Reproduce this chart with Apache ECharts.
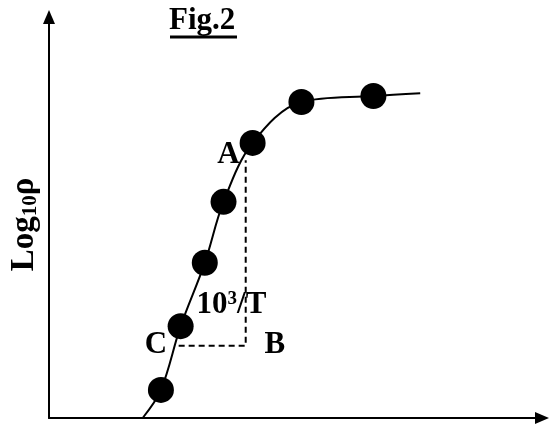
<!DOCTYPE html>
<html>
<head>
<meta charset="utf-8">
<script src="https://cdn.jsdelivr.net/npm/echarts@6/dist/echarts.min.js"></script>
<style>
  html, body { margin: 0; padding: 0; background: #fff; }
  #chart { width: 549px; height: 427px; }
</style>
</head>
<body>
<div id="chart"></div>
<script>
// Measured points (arbitrary units, 0–100 on both axes)
const pointX = [22.7, 26.7, 31.6, 35.4, 41.3, 51.2, 65.8];
const pointY = [7.0, 22.9, 38.7, 53.9, 68.6, 78.8, 80.3];

// Fitted curve knots: runs from the x axis, through the points, to a plateau
const curveX = [19.0, 22.7, 26.7, 31.6, 35.4, 41.3, 51.2, 65.8, 75.3];
const curveY = [0.0, 7.0, 22.9, 38.7, 53.9, 68.6, 78.8, 80.3, 81.0];

// Slope triangle C–B–A (dashed legs)
const triX = [26.3, 39.9, 39.9];
const triY = [18.0, 18.0, 64.3];

// Point labels
const labelNames = ['A', 'C', 'B', 'slope'];
const labelX = [36.4, 21.7, 45.8, 37.0];
const labelY = [65.6, 18.2, 18.2, 28.2];

const SERIF = '"Liberation Serif", "DejaVu Serif", serif';

const zip = (xs, ys) => xs.map((x, i) => [x, ys[i]]);

const chart = echarts.init(document.getElementById('chart'), null, { renderer: 'canvas' });

const axisCommon = {
  type: 'value', min: 0, max: 100,
  axisLine: { show: true, symbol: ['none', 'triangle'], symbolSize: [12, 14],
    lineStyle: { color: '#000', width: 2 } },
  axisTick: { show: false }, axisLabel: { show: false }, splitLine: { show: false }
};

chart.setOption({
  animation: false,
  backgroundColor: '#fff',
  grid: { left: 48, right: 7, top: 17, bottom: 9, containLabel: false },
  xAxis: Object.assign({}, axisCommon),
  yAxis: Object.assign({}, axisCommon, {
    name: '{m|Log}{s|10}{m|ρ}',
    nameLocation: 'middle', nameRotate: 90, nameGap: 8,
    nameTextStyle: {
      padding: [0, 14, 0, 0],
      rich: {
        m: { fontFamily: SERIF, fontWeight: 'bold', fontSize: 33, color: '#000' },
        s: { fontFamily: SERIF, fontWeight: 'bold', fontSize: 21, color: '#000', padding: [10, 0, 0, 0], verticalAlign: 'bottom' }
      }
    }
  }),
  graphic: [
    { type: 'text', left: 169, top: 5, z: 10,
      style: { text: 'Fig.2', fill: '#000', font: 'bold 31px ' + SERIF } },
    { type: 'line', z: 10,
      shape: { x1: 170, y1: 37, x2: 237, y2: 37 },
      style: { stroke: '#000', lineWidth: 3 } }
  ],
  series: [
    {
      type: 'line', data: zip(curveX, curveY), smooth: 0.35,
      showSymbol: false, lineStyle: { color: '#000', width: 2, opacity: 1 }, z: 2
    },
    {
      type: 'line', data: zip(triX, triY), showSymbol: false,
      lineStyle: { color: '#000', width: 2, type: [6, 4], opacity: 1 }, z: 1
    },
    {
      type: 'scatter', data: zip(pointX, pointY), symbol: 'circle', symbolSize: 26,
      itemStyle: { color: '#000', opacity: 1 }, z: 3
    },
    {
      type: 'scatter', symbolSize: 0, z: 4,
      itemStyle: { opacity: 1 },
      data: labelNames.map((n, i) => ({ name: n, value: [labelX[i], labelY[i]] })),
      label: {
        show: true, position: 'inside', color: '#000',
        fontFamily: SERIF, fontWeight: 'bold', fontSize: 31,
        formatter: p => p.name === 'slope' ? '{m|10}{sup|3}{m|/T}' : p.name,
        rich: {
          m: { fontFamily: SERIF, fontWeight: 'bold', fontSize: 31, color: '#000' },
          sup: { fontFamily: SERIF, fontWeight: 'bold', fontSize: 19, color: '#000', verticalAlign: 'top', padding: [0, 0, 12, 0] }
        }
      }
    }
  ]
});
</script>
</body>
</html>
